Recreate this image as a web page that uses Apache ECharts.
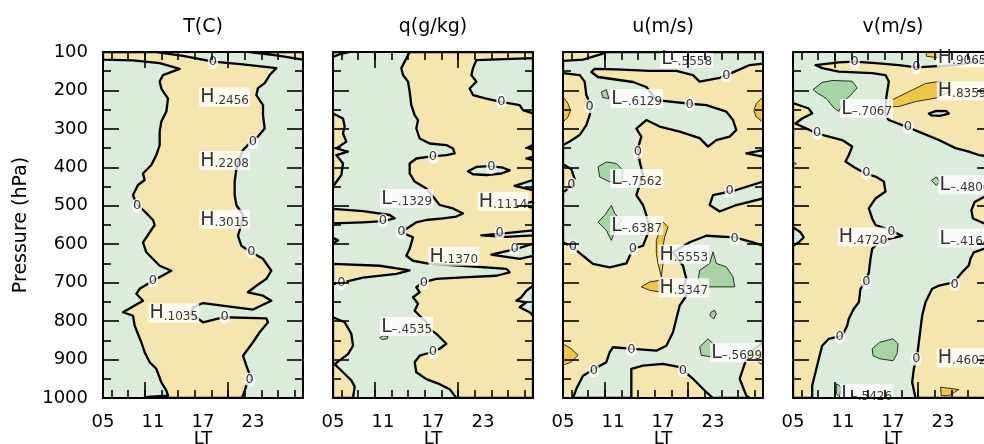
<!DOCTYPE html>
<html><head><meta charset="utf-8">
<script src="https://cdn.jsdelivr.net/npm/echarts@6/dist/echarts.min.js"></script>
<style>html,body{margin:0;padding:0;background:#fff}#c{width:984px;height:444px}</style>
</head><body><div id="c"></div>
<script>
// ---------- axes ----------
const LT_MIN = 5, LT_MAX = 29;
const xLabelValues = [5, 11, 17, 23];
const xTickLabels = ['05', '11', '17', '23'];
const xMinorTicks = [6, 8, 10, 12, 14, 16, 18, 20, 22, 24, 26, 28];
const xMajorTicks = [10, 20];
const pressureTicks = [100, 200, 300, 400, 500, 600, 700, 800, 900, 1000];
const pressureMinor = [150, 250, 350, 450, 550, 650, 750, 850, 950];
const panelTitles = ['T(C)', 'q(g/kg)', 'u(m/s)', 'v(m/s)'];

// ---------- panel 1 : T ----------
const p1Pos = [
 [[5,100],[11.4,100],[14.6,110],[18.2,125],[21.8,132],[25.8,142],[25.0,160],[24.4,181],[23.6,194],[23.4,212],[24.2,238],[24.2,264],[24.4,299],[23.6,320],[22.8,333],[21.8,355],[21.4,377],[21.0,403],[20.8,437],[20.8,472],[21.0,498],[21.8,524],[21.6,548],[21.2,578],[21.6,604],[22.8,621],[24.2,638],[25.2,669],[24.6,690],[23.4,708],[22.4,725],[24.2,734],[25.2,747],[23.0,770],[17.0,753],[15.8,764],[15.6,781],[17.0,803],[19.4,790],[24.6,793],[24.8,803],[23.8,829],[23.0,855],[21.8,890],[22.2,916],[22.8,951],[22.2,968],[21.8,994],[21.6,1000],[9.8,1000],[10.4,997],[12.8,994],[12.6,981],[12.0,959],[11.4,924],[10.6,907],[10.0,881],[9.6,855],[8.8,812],[8.6,786],[7.4,777],[9.8,747],[9.0,729],[9.4,716],[11.0,695],[13.2,669],[11.8,656],[10.2,621],[9.8,595],[11.2,550],[11.0,537],[10.0,515],[9.0,494],[8.6,472],[9.2,446],[10.0,433],[9.8,416],[10.8,394],[11.4,368],[11.8,342],[11.8,307],[12.0,281],[12.6,255],[12.8,221],[12.0,195],[11.8,177],[12.2,160],[14.2,144],[11.8,129],[8.6,122],[5,120]],
 [[22.6,100],[29,100],[29,120],[25.8,109]]
];
const p1Zero = [[18.2,125],[23.0,334],[9.1,499],[22.8,618],[11.0,694],[19.6,788],[22.6,952]];
const p1Ext = [['H','.2456',16.5,217],['H','.2208',16.5,382],['H','.3015',16.5,535],['H','.1035',10.4,779]];

// ---------- panel 2 : q ----------
const p2Pos = [
 [[14.2,100],[29,100],[29,1000],[19.8,1000],[19.0,977],[17.8,964],[16.2,951],[15.0,933],[14.8,907],[15.4,890],[16.8,881],[17.8,872],[18.6,859],[17.4,833],[16.6,820],[16.2,803],[15.4,786],[14.8,773],[15.2,755],[14.6,738],[15.4,725],[15.0,712],[15.8,699],[17.4,690],[20.6,686],[24.6,682],[26.2,673],[25.8,664],[20.6,656],[16.6,651],[14.6,643],[13.8,630],[14.2,612],[14.6,582],[13.2,569],[15.0,543],[16.2,537],[18.2,533],[19.8,528],[20.6,520],[19.4,507],[17.8,498],[17.0,476],[16.2,455],[14.8,437],[14.2,416],[14.2,390],[15.0,377],[16.6,372],[18.6,368],[19.6,364],[19.4,351],[18.6,342],[16.6,338],[15.4,325],[15.0,299],[15.2,277],[14.8,264],[14.4,238],[14.2,203],[14.0,177],[13.4,160],[13.2,142],[13.6,125]],
 [[5,100],[7.0,100],[5.8,106],[5,113]],
 [[5,260],[6.2,273],[6.4,294],[6.2,312],[6.6,333],[5.4,351],[6.8,359],[5.4,368],[6.2,390],[6.0,420],[5,450]],
 [[5,508],[8.6,514],[11.8,524],[12.4,533],[11.0,540],[8.6,543],[5,546]],
 [[5,583],[5.6,590],[5,597]],
 [[5,651],[10.6,656],[14.2,668],[12.6,677],[8.6,687],[6.2,699],[5,704]],
 [[5,790],[6.4,803],[7.2,833],[7.4,864],[6.8,886],[6.0,899],[5.2,912],[6.2,933],[7.2,954],[7.6,971],[7.4,1000],[5,1000]]
];
const p2Neg = [
 [[29,116],[22.2,121],[21.8,142],[21.6,160],[22.2,177],[21.4,195],[21.8,212],[23.4,221],[25.0,229],[27.4,238],[27.8,251],[29,260]],
 [[21.2,410],[22.2,399],[23.8,397],[25.4,401],[26.2,408],[25.2,416],[23.4,420],[21.8,418]],
 [[29,342],[28.3,349],[29,355]],
 [[29,372],[28.2,377],[29,381]],
 [[29,433],[26.8,448],[29,459]],
 [[29,489],[28.4,492],[28.2,497],[28.5,503],[29,505]],
 [[29,564],[25.8,571],[22.8,577],[25.8,581],[29,577]],
 [[29,599],[27.0,612],[24.0,627],[27.4,638],[29,630]],
 [[29,708],[28.2,721],[27.6,738],[27.0,747],[28.2,751],[27.4,764],[28.6,777],[29,786]]
];
const p2DarkGreen = [[[10.6,843],[11.0,838],[11.6,840],[11.5,846],[10.9,848]]];
const p2Zero = [[25.2,228],[17.0,373],[24.0,399],[11.0,538],[13.2,568],[25.0,570],[26.8,612],[6.0,701],[15.9,701],[17.0,880]];
const p2Ext = [['L','–.1329',10.6,481],['H','.1114',22.3,489],['H','.1370',16.4,631],['L','–.4535',10.6,814]];

// ---------- panel 3 : u ----------
const p3Neg = [
 [[5,123],[7.4,120],[9.8,104],[10.2,100],[29,100],[29,130],[27.4,134],[25.4,153],[23.8,167],[21.4,177],[20.6,160],[18.6,149],[15.4,149],[11.4,145],[8.8,144],[8.4,152],[9.2,165],[13.4,178],[15.0,191],[16.2,225],[20.0,234],[22.2,238],[24.6,255],[25.4,277],[25.8,303],[25.0,320],[23.4,329],[22.4,346],[21.4,324],[19.0,307],[16.6,294],[15.0,277],[13.8,299],[14.4,320],[14.0,350],[14.2,385],[14.6,420],[14.2,446],[13.8,472],[14.6,498],[15.0,524],[15.4,560],[14.6,604],[13.4,612],[12.6,650],[10.6,660],[8.6,651],[7.4,630],[6.2,608],[5,595],[5,342],[5.8,333],[7.0,316],[7.8,290],[8.2,264],[8.4,242],[7.8,212],[7.6,177],[7.0,160],[5,155]],
 [[29,355],[27.0,364],[29,372]],
 [[29,437],[25.8,459],[23.0,472],[22.6,498],[23.8,515],[25.8,498],[29,481]],
 [[18.2,621],[20.2,595],[22.2,578],[25.6,582],[27.8,595],[29,604],[29,859],[28.2,867],[27.0,898],[26.2,950],[27.0,994],[27.4,1000],[23.0,1000],[22.2,985],[20.6,950],[19.0,920],[17.0,911],[14.6,916],[13.2,924],[13.2,1000],[6.2,1000],[6.6,976],[7.4,942],[8.8,924],[10.2,907],[10.6,881],[11.0,868],[13.4,872],[16.2,877],[17.4,864],[18.2,829],[18.6,794],[19.0,760],[19.8,734],[19.4,716],[19.8,690],[19.4,656]]
];
const p3PosIsl = [[[5,392],[6.0,405],[6.4,430],[6.0,450],[5,465]]];
const p3DarkYellow = [
 [[5,217],[5.6,234],[5.9,252],[5.6,269],[5,282]],
 [[29,217],[28.2,234],[27.9,252],[28.2,269],[29,282]],
 [[17.0,542],[17.6,555],[17.2,581],[17.0,607],[16.6,624],[17.0,650],[16.8,685],[16.4,650],[16.2,624],[16.2,590],[16.6,564]],
 [[14.4,711],[15.4,698],[16.6,694],[16.6,724],[15.4,720]],
 [[5,859],[6.0,872],[6.8,889],[6.0,906],[5,915]],
 [[29,863],[28.2,880],[28.0,893],[28.4,906],[29,915]]
];
const p3DarkGreen = [
 [[9.6,204],[10.2,198],[10.5,221],[9.8,219]],
 [[9.2,399],[10.2,386],[11.4,390],[12.2,408],[12.0,438],[10.6,438],[9.4,425]],
 [[10.8,499],[11.2,520],[12.0,538],[11.4,555],[10.8,590],[10.2,564],[9.2,542],[10.0,525]],
 [[21.4,668],[22.6,650],[23.0,620],[23.4,650],[24.6,659],[25.4,685],[25.6,711],[24.2,711],[22.2,711],[21.2,694]],
 [[22.8,776],[23.2,772],[23.4,781],[23.1,794],[22.6,785]],
 [[21.4,867],[22.4,846],[23.0,859],[22.8,893],[21.6,889]]
];
const p3Zero = [[8.2,241],[20.2,236],[24.6,161],[14.0,360],[6.0,444],[25.0,460],[25.6,585],[6.2,605],[13.4,611],[13.2,873],[8.7,928],[19.4,928]];
const p3Ext = [['L','–.5558',16.6,117],['L','–.6129',10.6,221],['L','–.7562',10.6,429],['L','–.6387',10.6,551],['H','.5553',16.4,626],['H','.5347',16.4,713],['L','–.5699',22.6,882]];

// ---------- panel 4 : v ----------
const p4Pos = [
 [[7.7,134],[10.5,127],[12.4,125],[14.9,129],[17.7,134],[19.9,140],[21.3,138],[24.5,134],[26.9,125],[29,117],[29,373],[27.3,368],[26.1,359],[24.5,350],[22.5,329],[20.5,311],[18.8,296],[16.5,277],[16.1,264],[16.2,217],[16.5,177],[16.1,160],[14.5,155],[10.5,151],[8.5,142]],
 [[5,233],[6.9,247],[7.3,260],[6.1,273],[5.3,286],[6.1,294],[7.9,312],[9.3,320],[10.9,329],[12.1,346],[11.7,368],[11.3,385],[12.5,402],[13.7,416],[14.9,424],[15.9,437],[16.1,463],[14.9,481],[14.1,507],[14.5,533],[14.9,550],[16.5,562],[18.1,578],[16.5,586],[15.3,595],[14.5,612],[14.3,638],[14.1,673],[13.7,699],[13.1,716],[12.9,751],[12.3,768],[11.7,794],[11.5,812],[10.9,838],[9.3,846],[8.5,864],[8.1,898],[7.7,933],[7.3,968],[7.3,1000],[5,1000]],
 [[29,607],[27.9,612],[26.7,621],[26.3,638],[26.1,655],[25.3,673],[24.3,699],[22.5,708],[21.7,716],[20.9,751],[20.5,786],[20.3,820],[20.1,855],[19.9,890],[19.5,924],[19.3,959],[19.7,1000],[29,1000]],
 [[29,473],[27.9,477],[26.8,490],[26.4,512],[26.6,533],[27.9,545],[29,548]]
];
const p4NegIsl = [
 [[5,556],[5.9,569],[6.3,582],[5.7,595],[5,604]],
 [[21.3,260],[22.2,253],[23.4,254],[23.7,260],[22.6,266],[21.6,265]]
];
const p4DarkGreen = [
 [[8.5,179],[9.8,174],[12.1,176],[12.7,193],[11.9,213],[11.0,230],[10.5,255],[9.8,243],[9.0,221],[8.0,208],[7.4,198]],
 [[21.6,434],[22.2,425],[22.6,438],[22.2,447]],
 [[14.5,872],[15.4,855],[17.0,846],[17.6,859],[17.5,885],[17.0,903],[15.4,898],[14.6,890]],
 [[10.2,963],[10.8,971],[10.6,997],[10.2,989]]
];
const p4DarkYellow = [
 [[21.0,100],[22.4,100],[22.4,115],[21.0,111]],
 [[16.5,229],[17.7,216],[19.3,199],[20.9,182],[22.5,177],[23.7,182],[23.9,203],[22.1,220],[19.7,229],[17.7,242],[16.7,242]],
 [[22.7,972],[24.9,978],[23.7,994],[22.8,994]],
 [[5,386],[5.4,390],[5,396]]
];
const p4Zero = [[12.4,126],[19.8,139],[7.9,311],[18.8,295],[13.8,415],[16.8,566],[13.8,698],[24.4,704],[10.6,840],[19.8,898]];
const p4Ext = [['H','.9065',22.2,115],['H','.8359',22.2,201],['L','–.7067',10.6,247],['L','–.4806',22.4,445],['H','.4720',10.3,581],['L','–.4164',22.4,584],['H','.4602',22.2,895],['L','–.5426',10.6,989]];

// ---------- styling ----------
const FONT = 'DejaVu Sans';
const C_GREEN = '#dcecda', C_BEIGE = '#f5e6b0', C_DKY = '#f0c64a', C_DKG = '#a6d4a4';
const LEFTS = [103, 333, 563, 793];
const GTOP = 52, GW = 200, GH = 346;

const panels = [
 {bg: C_GREEN, layers: [[p1Pos, C_BEIGE, 2.3]], zero: p1Zero, ext: p1Ext},
 {bg: C_GREEN, layers: [[p2Pos, C_BEIGE, 2.3], [p2Neg, C_GREEN, 2.3], [p2DarkGreen, C_DKG, 0.8]], zero: p2Zero, ext: p2Ext},
 {bg: C_BEIGE, layers: [[p3Neg, C_GREEN, 2.3], [p3PosIsl, C_BEIGE, 2.3], [p3DarkYellow, C_DKY, 0.8], [p3DarkGreen, C_DKG, 0.8]], zero: p3Zero, ext: p3Ext},
 {bg: C_GREEN, layers: [[p4Pos, C_BEIGE, 2.3], [p4NegIsl, C_GREEN, 2.3], [p4DarkGreen, C_DKG, 0.8], [p4DarkYellow, C_DKY, 0.8]], zero: p4Zero, ext: p4Ext}
];

const grids = [], xAxes = [], yAxes = [], series = [];
const lineStyle = {color: '#000', width: 2};
const tickStyle = {color: '#000', width: 1.6};
const txt = {color: '#000', fontFamily: FONT, fontSize: 18};

panels.forEach((pn, gi) => {
  grids.push({left: LEFTS[gi], top: GTOP, width: GW, height: GH, show: true, backgroundColor: pn.bg,
    borderWidth: 0, containLabel: false, outerBoundsMode: 'none'});
  const xb = {gridIndex: gi, type: 'value', min: LT_MIN, max: LT_MAX, z: 10, splitLine: {show: false}};
  xAxes.push(Object.assign({}, xb, {position: 'bottom',
    axisLine: {show: true, onZero: false, lineStyle},
    axisTick: {show: true, inside: true, length: 8, customValues: xMinorTicks, lineStyle: tickStyle},
    axisLabel: Object.assign({show: true, customValues: xLabelValues, margin: 15,
      formatter: v => xTickLabels[xLabelValues.indexOf(v)]}, txt),
    name: 'LT', nameLocation: 'middle', nameGap: 33, nameMoveOverlap: false,
    nameTextStyle: Object.assign({}, txt, {lineHeight: 16})}));
  xAxes.push(Object.assign({}, xb, {position: 'top',
    axisLine: {show: true, onZero: false, lineStyle},
    axisTick: {show: true, inside: true, length: 8, customValues: xMinorTicks, lineStyle: tickStyle},
    axisLabel: {show: false},
    name: panelTitles[gi], nameLocation: 'middle', nameGap: 15, nameMoveOverlap: false,
    nameTextStyle: Object.assign({}, txt, {fontSize: 19})}));
  xAxes.push(Object.assign({}, xb, {position: 'bottom', axisLine: {show: false},
    axisTick: {show: true, inside: true, length: 16, customValues: xMajorTicks, lineStyle: tickStyle}, axisLabel: {show: false}}));
  xAxes.push(Object.assign({}, xb, {position: 'top', axisLine: {show: false},
    axisTick: {show: true, inside: true, length: 16, customValues: xMajorTicks, lineStyle: tickStyle}, axisLabel: {show: false}}));
  const yb = {gridIndex: gi, type: 'value', min: 100, max: 1000, inverse: true, z: 10, splitLine: {show: false}};
  yAxes.push(Object.assign({}, yb, {position: 'left',
    axisLine: {show: true, onZero: false, lineStyle},
    axisTick: {show: true, inside: true, length: 16, customValues: pressureTicks, lineStyle: tickStyle},
    axisLabel: Object.assign({show: gi === 0, customValues: pressureTicks, margin: 15, formatter: v => String(v)}, txt),
    name: gi === 0 ? 'Pressure (hPa)' : '', nameLocation: 'middle', nameGap: 72,
    nameTextStyle: Object.assign({}, txt, {fontSize: 19})}));
  yAxes.push(Object.assign({}, yb, {position: 'right',
    axisLine: {show: true, onZero: false, lineStyle},
    axisTick: {show: true, inside: true, length: 16, customValues: pressureTicks, lineStyle: tickStyle},
    axisLabel: {show: false}}));
  yAxes.push(Object.assign({}, yb, {position: 'left', axisLine: {show: false},
    axisTick: {show: true, inside: true, length: 8, customValues: pressureMinor, lineStyle: tickStyle}, axisLabel: {show: false}}));
  yAxes.push(Object.assign({}, yb, {position: 'right', axisLine: {show: false},
    axisTick: {show: true, inside: true, length: 8, customValues: pressureMinor, lineStyle: tickStyle}, axisLabel: {show: false}}));

  pn.layers.forEach((ly, li) => {
    const polys = ly[0], fill = ly[1], lw = ly[2];
    series.push({
      type: 'custom', xAxisIndex: gi * 4, yAxisIndex: gi * 4, clip: true, silent: true, z: 2 + li * 0.1,
      data: polys.map((p, i) => [p[0][0], p[0][1], i]),
      encode: {x: 0, y: 1},
      renderItem: (params, api) => {
        const poly = polys[api.value(2)];
        return {type: 'polygon', shape: {points: poly.map(pt => api.coord(pt))},
          style: {fill: fill, stroke: '#000', lineWidth: lw, lineJoin: 'round'}};
      }
    });
  });
  series.push({
    type: 'scatter', xAxisIndex: gi * 4, yAxisIndex: gi * 4, silent: true, z: 5,
    symbol: 'circle', symbolSize: 1, itemStyle: {color: 'rgba(0,0,0,0)'},
    data: pn.zero,
    label: {show: true, position: 'inside', formatter: '0', color: '#000', fontFamily: FONT, fontSize: 13,
      backgroundColor: '#fff', borderRadius: 6, padding: [0, 1], lineHeight: 14}
  });
  series.push({
    type: 'scatter', xAxisIndex: gi * 4, yAxisIndex: gi * 4, silent: true, z: 6,
    symbol: 'circle', symbolSize: 1, itemStyle: {color: 'rgba(0,0,0,0)'},
    data: pn.ext.map(e => ({value: [e[2], e[3]], hl: e[0], num: e[1]})),
    label: {show: true, position: 'right', distance: 0, backgroundColor: '#fff', padding: [1, 1, 0, 1],
      formatter: p => '{h|' + p.data.hl + '}{n|' + p.data.num + '}',
      rich: {h: {fontFamily: FONT, fontSize: 19, color: '#000', lineHeight: 18},
             n: {fontFamily: FONT, fontSize: 12, color: '#000', lineHeight: 8, verticalAlign: 'bottom'}}}
  });
});

const chart = echarts.init(document.getElementById('c'), null, {renderer: 'canvas'});
chart.setOption({animation: false, grid: grids, xAxis: xAxes, yAxis: yAxes, series: series});
</script></body></html>
